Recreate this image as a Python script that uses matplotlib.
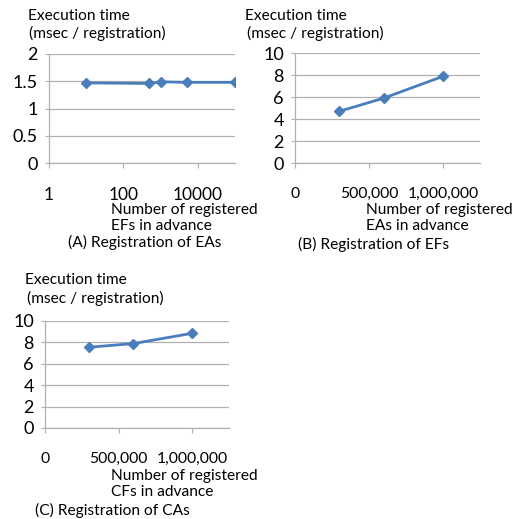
import matplotlib
matplotlib.use("Agg")
import matplotlib.pyplot as plt
from matplotlib.ticker import FuncFormatter

plt.rcParams['font.family'] = ['Lato', 'DejaVu Sans']

# Data
ea_x = [10, 500, 1000, 5000, 100000]
ea_y = [1.47, 1.46, 1.49, 1.48, 1.48]

ef_x = [300000, 600000, 1000000]
ef_y = [4.7, 5.9, 7.88]

ca_x = [300000, 600000, 1000000]
ca_y = [7.55, 7.89, 8.85]

W, H = 516, 519
LINE = '#4a7ebb'
GRID = '#b0b0b0'
FS = 11.2

fig = plt.figure(figsize=(W / 100, H / 100), dpi=100)


def box(l, t, r, b):
    return [l / W, 1 - b / H, (r - l) / W, (b - t) / H]


def txt(x, y, s, **kw):
    fig.text(x / W, 1 - y / H, s, fontsize=FS, va='center', ha='left', **kw)


def style(ax, yticks, ylim, xsize):
    ax.set_ylim(*ylim)
    ax.set_yticks(yticks)
    ax.grid(axis='y', color=GRID, lw=0.9)
    ax.set_axisbelow(True)
    for s in ['top', 'right']:
        ax.spines[s].set_visible(False)
    for s in ['left', 'bottom']:
        ax.spines[s].set_color(GRID)
        ax.spines[s].set_linewidth(0.9)
    ax.tick_params(axis='y', length=3, color=GRID, labelsize=13, pad=5)
    ax.tick_params(axis='x', length=3.5, color=GRID, labelsize=xsize, pad=14)


comma = FuncFormatter(lambda v, p: f'{int(v):,}')

# (A)
ax = fig.add_axes(box(49, 54, 235, 163))
ax.plot(ea_x, ea_y, color=LINE, lw=2, marker='D', ms=5)
ax.set_xscale('log')
ax.set_xlim(1, 100000)
ax.set_xticks([1, 100, 10000])
ax.set_xticklabels(['1', '100', '10000'])
ax.minorticks_off()
style(ax, [0, 0.5, 1, 1.5, 2], (0, 2), 12.5)
ax.set_yticklabels(['0', '0.5', '1', '1.5', '2'])
txt(28, 16, 'Execution time')
txt(29, 33, '(msec / registration)')
txt(111, 210, 'Number of registered')
txt(111, 226, 'EFs in advance')
txt(68, 242, '(A) Registration of EAs')

# (B)
ax = fig.add_axes(box(295, 53, 480, 163))
ax.plot(ef_x, ef_y, color=LINE, lw=2, marker='D', ms=5)
ax.set_xlim(0, 1250000)
ax.set_xticks([0, 500000, 1000000])
ax.xaxis.set_major_formatter(comma)
style(ax, [0, 2, 4, 6, 8, 10], (0, 10), 11.3)
txt(245, 16, 'Execution time')
txt(247, 33, '(msec / registration)')
txt(366, 210, 'Number of registered')
txt(366, 226, 'EAs in advance')
txt(298, 244, '(B) Registration of EFs')

# (C)
ax = fig.add_axes(box(45, 321, 229, 428))
ax.plot(ca_x, ca_y, color=LINE, lw=2, marker='D', ms=5)
ax.set_xlim(0, 1250000)
ax.set_xticks([0, 500000, 1000000])
ax.xaxis.set_major_formatter(comma)
style(ax, [0, 2, 4, 6, 8, 10], (0, 10), 11.3)
txt(25, 280, 'Execution time')
txt(27, 298, '(msec / registration)')
txt(111, 476, 'Number of registered')
txt(111, 492, 'CFs in advance')
txt(35, 510, '(C) Registration of CAs')

fig.savefig('out.png', dpi=100)
